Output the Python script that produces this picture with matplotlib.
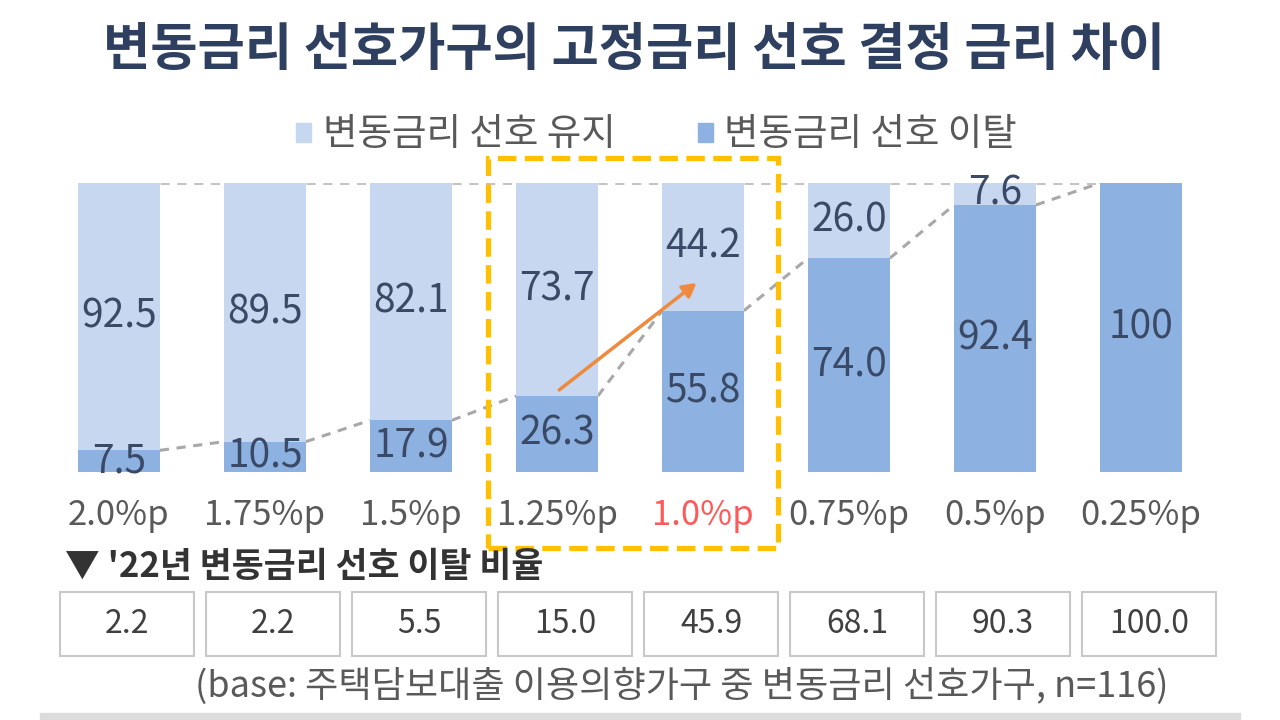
import matplotlib.pyplot as plt
from matplotlib.patches import Rectangle
import numpy as np

plt.rcParams['font.family'] = ['Noto Sans CJK KR', 'DejaVu Sans']

# data
gaps = ["2.0%p", "1.75%p", "1.5%p", "1.25%p", "1.0%p", "0.75%p", "0.5%p", "0.25%p"]
leave = [7.5, 10.5, 17.9, 26.3, 55.8, 74.0, 92.4, 100]
keep = [92.5, 89.5, 82.1, 73.7, 44.2, 26.0, 7.6, 0]
rate_22 = [2.2, 2.2, 5.5, 15.0, 45.9, 68.1, 90.3, 100.0]

light = "#c6d7ef"
dark = "#8db2e2"
label_col = "#3a4a66"
gray = "#595959"

fig = plt.figure(figsize=(12.8, 7.2), dpi=100)

# main axes: bar centres at 119 + 146*i px, plot height 183..472 px
x0 = -119 / 146
x1 = (1280 - 119) / 146
ax = fig.add_axes([0, 1 - 472 / 720, 1, 289 / 720])
ax.set_xlim(x0, x1)
ax.set_ylim(0, 100)
ax.axis("off")

x = np.arange(len(gaps))
w = 0.56
ax.bar(x, leave, width=w, color=dark, zorder=2)
ax.bar(x, keep, width=w, bottom=leave, color=light, zorder=2)

# series lines
for i in range(len(x) - 1):
    ax.plot([x[i] + w / 2, x[i + 1] - w / 2], [leave[i], leave[i + 1]],
            ls=(0, (3, 2.5)), color="#a8a8a8", lw=2.2, zorder=1)
    ax.plot([x[i] + w / 2, x[i + 1] - w / 2], [100, 100],
            ls=(0, (3, 2.5)), color="#c4c4c4", lw=2.2, zorder=1)

# data labels
for i in range(len(x)):
    if leave[i] > 0:
        ax.text(x[i], leave[i] / 2, f"{leave[i]:g}" if leave[i] == 100 else f"{leave[i]:.1f}",
                ha="center", va="center", fontsize=28, color=label_col, zorder=3)
    if keep[i] > 0:
        ax.text(x[i], leave[i] + keep[i] / 2, f"{keep[i]:.1f}",
                ha="center", va="center", fontsize=28, color=label_col, zorder=3)

# category labels
for i, g in enumerate(gaps):
    ax.text(x[i], -15, g, ha="center", va="center", fontsize=25,
            color="#ff5a5a" if g == "1.0%p" else gray)

# highlight box
hb = Rectangle((3 - 0.47, -26.3), 1.987, 135, fill=False, ec="#ffc000",
               lw=3.8, ls=(0, (3.5, 1.6)), clip_on=False, zorder=4)
ax.add_patch(hb)

# orange arrow
ax.annotate("", xy=(3.97, 66), xytext=(3, leave[3] + 1.5),
            arrowprops=dict(arrowstyle="-|>,head_length=0.8,head_width=0.45",
                            color="#ef8a3c", lw=2.5), zorder=5)

# title and legend
fig.text(0.495, 1 - 50 / 720, "변동금리 선호가구의 고정금리 선호 결정 금리 차이",
         ha="center", va="center", fontsize=37, fontweight="bold", color="#2e3f5f")

h1 = Rectangle((0, 0), 1, 1, color=light)
h2 = Rectangle((0, 0), 1, 1, color=dark)
fig.legend([h1, h2], ["변동금리 선호 유지", "변동금리 선호 이탈"], loc="center",
           bbox_to_anchor=(0.513, 1 - 135 / 720), ncol=2, frameon=False,
           fontsize=27, handlelength=0.4, handleheight=0.4, handletextpad=0.3,
           columnspacing=2.2, labelcolor=gray)

# bottom table
fig.text(65 / 1280, 1 - 567 / 720, "▼ '22년 변동금리 선호 이탈 비율", ha="left",
         va="center", fontsize=25, fontweight="bold", color="#333333")

bx = fig.add_axes([0, 1 - 660 / 720, 1, 72 / 720])
bx.set_xlim(x0 - 0.055, x1 - 0.055)
bx.set_ylim(0, 1)
bx.axis("off")
for i, v in enumerate(rate_22):
    bx.add_patch(Rectangle((x[i] - 0.46, 0.05), 0.92, 0.9, fill=False,
                           ec="#c8c8c8", lw=1.5))
    bx.text(x[i], 0.5, f"{v:.1f}", ha="center", va="center", fontsize=23,
            color="#404040")

fig.text(0.533, 1 - 686 / 720, "(base: 주택담보대출 이용의향가구 중 변동금리 선호가구, n=116)",
         ha="center", va="center", fontsize=26, color=gray)

fig.patches.append(Rectangle((40 / 1280, 0), 1200 / 1280, 7 / 720, color="#dcdcdc",
                             transform=fig.transFigure, figure=fig))

fig.savefig("out.png", dpi=100)
